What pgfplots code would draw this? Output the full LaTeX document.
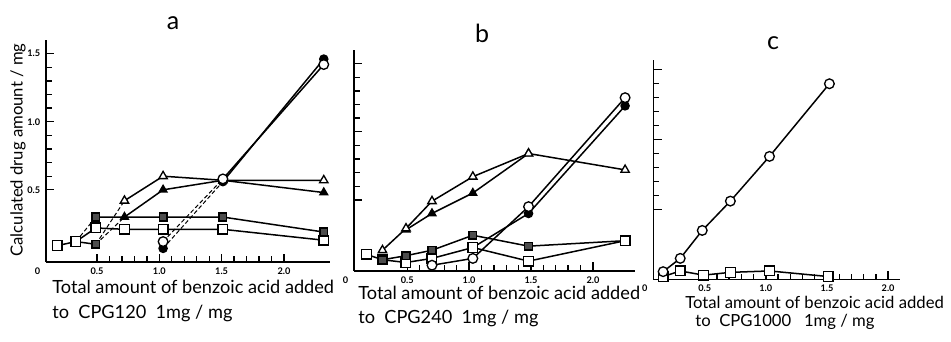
\documentclass[border=0pt]{standalone}
\usepackage{fontspec}
\setmainfont{Lato}
\usepackage{pgfplots}
\pgfplotsset{compat=1.18}

\pgfplotsset{
  panel/.style={
    scale only axis,
    anchor=south west,
    axis lines*=left,
    axis line style={line width=1pt},
    tick align=inside,
    major tick length=5pt, minor tick length=3.5pt,
    every tick/.style={line width=0.8pt, black},
    xtick={0.5,1,1.5,2},
    xticklabels={0.5,1.0,1.5,2.0},
    minor x tick num=4,
    ytick={0.5,1,1.5},
    yticklabels={0.5,1.0,1.5},
    minor y tick num=4,
    tick label style={font=\fontsize{5.5}{6}\selectfont\bfseries},
    /pgf/number format/assume math mode=true,
    clip=false,
  },
  ln/.style={black, line width=0.9pt},
  dl/.style={black, line width=0.6pt, dash pattern=on 2.5pt off 1.5pt, no marks},
  osq/.style={ln, mark=square*, mark size=2.9pt, mark options={solid, fill=white, line width=0.8pt}},
  ocir/.style={ln, mark=*, mark size=2.9pt, mark options={solid, fill=white, line width=0.8pt}},
  fcir/.style={ln, mark=*, mark size=2.4pt, mark options={solid, fill=black}},
  otri/.style={ln, mark=triangle*, mark size=2.9pt, mark options={solid, fill=white, line width=0.8pt}},
  ftri/.style={ln, mark=triangle*, mark size=2.6pt, mark options={solid, fill=black}},
  hg/.style={ln, mark=square*, mark size=2.3pt, mark options={solid, fill=black!70, draw=black}},
}

\begin{document}
\begin{tikzpicture}
\useasboundingbox (0,0) rectangle (570.6pt,204.6pt);

% ---------- panel a ----------
\begin{axis}[panel, at={(27.6pt,47.4pt)}, width=170.4pt, height=133.2pt,
  xmin=0.09, xmax=2.37, ymin=-0.03, ymax=1.6]
\addplot[osq] coordinates {(0.18,0.09)(0.33,0.12)(0.49,0.22)(0.72,0.21)(1.03,0.21)(1.51,0.21)(2.32,0.13)};
\addplot[dl] coordinates {(0.33,0.12)(0.49,0.30)};
\addplot[hg] coordinates {(0.49,0.30)(1.03,0.30)(1.51,0.30)(2.32,0.19)};
\addplot[ln, no marks] coordinates {(0.33,0.12)(0.49,0.10)};
\addplot[hg, only marks] coordinates {(0.49,0.10)};
\addplot[dl] coordinates {(0.49,0.10)(0.72,0.42)};
\addplot[dl] coordinates {(0.49,0.10)(0.72,0.30)};
\addplot[ftri] coordinates {(0.72,0.30)(1.03,0.50)(1.51,0.57)(2.32,0.48)};
\addplot[otri] coordinates {(0.72,0.42)(1.03,0.60)(1.51,0.57)(2.32,0.57)};
\addplot[dl] coordinates {(1.03,0.07)(1.51,0.56)};
\addplot[dl] coordinates {(1.03,0.12)(1.51,0.58)};
\addplot[fcir, only marks] coordinates {(1.03,0.07)};
\addplot[fcir] coordinates {(1.51,0.56)(2.32,1.46)};
\addplot[ocir, only marks] coordinates {(1.03,0.12)};
\addplot[ocir] coordinates {(1.51,0.58)(2.32,1.42)};
\node[font=\fontsize{5.5}{6}\selectfont\bfseries, anchor=north east] at (rel axis cs:0,0) {0};
\end{axis}

% ---------- panel b ----------
\begin{axis}[panel, at={(212.4pt,42.2pt)}, width=168.6pt, height=132.4pt,
  xmin=0.07, xmax=2.34, ymin=-0.02, ymax=1.6, yticklabels={}]
\addplot[osq] coordinates {(0.17,0.10)(0.30,0.06)(0.49,0.04)(0.70,0.07)(1.03,0.15)(1.48,0.05)(2.26,0.20)};
\addplot[hg] coordinates {(0.30,0.06)(0.49,0.09)(0.70,0.13)(1.03,0.24)(1.48,0.16)(2.26,0.20)};
\addplot[ftri] coordinates {(0.49,0.28)(0.70,0.40)(1.03,0.55)(1.48,0.84)};
\addplot[otri] coordinates {(0.30,0.13)(0.49,0.29)(0.70,0.49)(1.03,0.67)(1.48,0.84)(2.26,0.72)};
\addplot[fcir] coordinates {(1.03,0.15)(1.48,0.40)(2.26,1.19)};
\addplot[ocir] coordinates {(0.70,0.02)(1.03,0.07)(1.48,0.45)(2.26,1.25)};
\addplot[osq, only marks] coordinates {(1.03,0.15)(2.26,0.20)};
\node[font=\fontsize{5.5}{6}\selectfont\bfseries, anchor=north east] at (rel axis cs:0,0) {0};
\end{axis}

% ---------- panel c ----------
\begin{axis}[panel, at={(392pt,37pt)}, width=148.2pt, height=131.6pt,
  xmin=0.08, xmax=2.1, ymin=0, ymax=1.57, yticklabels={}]
\addplot[osq] coordinates {(0.16,0.02)(0.30,0.06)(0.49,0.03)(0.71,0.05)(1.03,0.06)(1.51,0.02)};
\addplot[ocir] coordinates {(0.16,0.055)(0.30,0.15)(0.48,0.35)(0.71,0.56)(1.03,0.88)(1.52,1.40)};
\node[font=\fontsize{5.5}{6}\selectfont\bfseries, anchor=north east] at (rel axis cs:0,0) {0};
\end{axis}

% ---------- titles and labels ----------
\node[font=\fontsize{15}{18}\selectfont] at (103.8pt,190.8pt) {a};
\node[font=\fontsize{15}{18}\selectfont] at (289.2pt,184.8pt) {b};
\node[font=\fontsize{15}{18}\selectfont] at (463.8pt,178.8pt) {c};

\node[rotate=90, font=\fontsize{10}{12}\selectfont] at (10.8pt,114.6pt) {Calculated drug amount / mg};

\node[anchor=west, font=\fontsize{10.9}{13}\selectfont, inner sep=0pt] at (31.2pt,32.4pt) {Total amount of benzoic acid added};
\node[anchor=west, font=\fontsize{10.9}{13}\selectfont, inner sep=0pt] at (31.2pt,16.8pt) {to \ CPG120 \ 1mg / mg};
\node[anchor=west, font=\fontsize{10.9}{13}\selectfont, inner sep=0pt] at (214.8pt,28.8pt) {Total amount of benzoic acid added};
\node[anchor=west, font=\fontsize{10.9}{13}\selectfont, inner sep=0pt] at (214.8pt,13.8pt) {to \ CPG240 \ 1mg / mg};
\node[anchor=west, font=\fontsize{10}{12}\selectfont, inner sep=0pt] at (411pt,23.4pt) {Total amount of benzoic acid added};
\node[anchor=west, font=\fontsize{10}{12}\selectfont, inner sep=0pt] at (417pt,11.4pt) {to \ CPG1000 \ \ 1mg / mg};
\end{tikzpicture}
\end{document}
